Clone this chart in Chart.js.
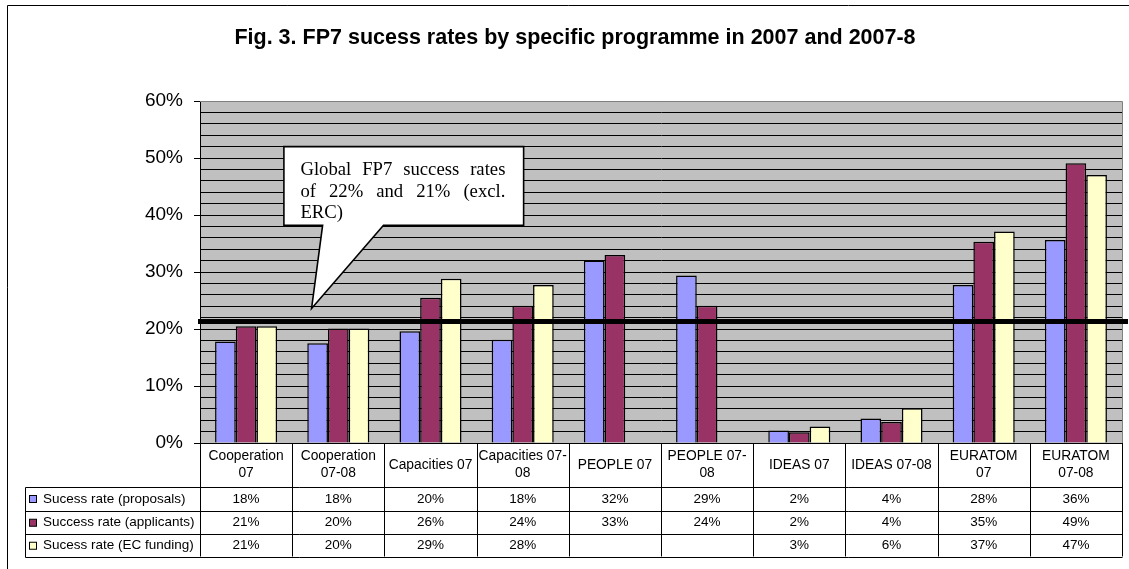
<!DOCTYPE html>
<html>
<head>
<meta charset="utf-8">
<script src="https://cdn.jsdelivr.net/npm/chart.js@4/dist/chart.umd.min.js"></script>
<style>
html,body{margin:0;padding:0;background:#fff;}
#wrap{width:1129px;height:569px;position:relative;}
</style>
</head>
<body>
<div id="wrap"><canvas id="c"></canvas></div>
<script>
// ---- data ----
const categories = [
  ["Cooperation","07"], ["Cooperation","07-08"], "Capacities 07", ["Capacities 07-","08"],
  "PEOPLE 07", ["PEOPLE 07-","08"], "IDEAS 07", "IDEAS 07-08", ["EURATOM","07"], ["EURATOM","07-08"]
];
const seriesNames = ["Sucess rate (proposals)", "Success rate (applicants)", "Sucess rate (EC funding)"];
const proposals  = [17.8, 17.5, 19.6, 18.1, 32.0, 29.4, 2.2, 4.3, 27.7, 35.6];
const applicants = [20.5, 20.1, 25.5, 24.1, 33.0, 24.1, 1.9, 3.7, 35.3, 49.1];
const ecFunding  = [20.5, 20.1, 28.8, 27.7, null, null, 2.9, 6.1, 37.1, 47.0];
const yTickValues = [0, 10, 20, 30, 40, 50, 60];
const globalRate = 21.3;
const titleText = "Fig. 3. FP7 sucess rates by specific programme in 2007 and 2007-8";
const calloutLines = ["Global FP7 success rates", "of 22% and 21% (excl.", "ERC)"];

const colors = ["#9999FF", "#993366", "#FFFFCC"];
const FONT = "'Liberation Sans', Arial, sans-serif";
const SERIF = "'Liberation Serif', 'Times New Roman', serif";

// callout placement (category index units / value units)
const calloutPos = {x0: 0.41, x1: 3.01, yTop: 52.0, yBottom: 38.2,
                    baseL: 0.83, baseR: 1.49, tipX: 0.71, tipY: 23.6};

const drawPlugin = {
  id: 'drawExtras',
  beforeDraw(chart) {
    const ctx = chart.ctx, a = chart.chartArea;
    ctx.save();
    ctx.fillStyle = '#fff';
    ctx.fillRect(0, 0, chart.width, chart.height);
    ctx.fillStyle = '#C0C0C0';
    ctx.fillRect(a.left, a.top, a.right - a.left, a.bottom - a.top);
    ctx.restore();
  },
  afterDatasetsDraw(chart) {
    const ctx = chart.ctx, a = chart.chartArea;
    const xs = chart.scales.x, ys = chart.scales.y;
    ctx.save();

    // plot border top/right
    ctx.strokeStyle = '#808080'; ctx.lineWidth = 1;
    ctx.beginPath();
    ctx.moveTo(a.left, Math.round(a.top) + 0.5);
    ctx.lineTo(Math.round(a.right) + 0.5, Math.round(a.top) + 0.5);
    ctx.lineTo(Math.round(a.right) + 0.5, a.bottom);
    ctx.stroke();

    // global rate line
    const gy = ys.getPixelForValue(globalRate);
    ctx.strokeStyle = '#000'; ctx.lineWidth = 5;
    ctx.beginPath(); ctx.moveTo(a.left - 2, gy); ctx.lineTo(chart.width - 1, gy); ctx.stroke();

    // callout
    const bx0 = xs.getPixelForValue(calloutPos.x0), bx1 = xs.getPixelForValue(calloutPos.x1);
    const by0 = ys.getPixelForValue(calloutPos.yTop), by1 = ys.getPixelForValue(calloutPos.yBottom);
    const blx = xs.getPixelForValue(calloutPos.baseL), brx = xs.getPixelForValue(calloutPos.baseR);
    const tx = xs.getPixelForValue(calloutPos.tipX), ty = ys.getPixelForValue(calloutPos.tipY);
    ctx.beginPath();
    ctx.moveTo(bx0, by0); ctx.lineTo(bx1, by0); ctx.lineTo(bx1, by1);
    ctx.lineTo(brx, by1); ctx.lineTo(tx, ty); ctx.lineTo(blx, by1);
    ctx.lineTo(bx0, by1); ctx.closePath();
    ctx.fillStyle = '#fff'; ctx.fill();
    ctx.strokeStyle = '#000'; ctx.lineWidth = 1.6; ctx.lineJoin = 'miter'; ctx.stroke();
    // callout text, justified
    ctx.save();
    ctx.beginPath(); ctx.rect(bx0 + 1, by0 + 1, bx1 - bx0 - 2, by1 - by0 - 2); ctx.clip();
    ctx.font = "18.7px " + SERIF; ctx.fillStyle = '#000'; ctx.textBaseline = 'alphabetic'; ctx.textAlign = 'left';
    const tLeft = bx0 + 16.5, tWidth = 205;
    calloutLines.forEach((line, i) => {
      const by = by0 + 28.5 + i * 21.6;
      const words = line.split(' ');
      if (i === calloutLines.length - 1 || words.length < 2) {
        ctx.fillText(line, tLeft, by);
      } else {
        const ws = words.map(w => ctx.measureText(w).width);
        const gap = (tWidth - ws.reduce((s, v) => s + v, 0)) / (words.length - 1);
        let x = tLeft;
        words.forEach((w, k) => { ctx.fillText(w, x, by); x += ws[k] + gap; });
      }
    });
    ctx.restore();

    // data table
    const n = categories.length;
    const top = a.bottom;
    const rows = [top, top + 43.5, top + 67.5, top + 91, top + 113.5];
    const tableLeft = 25.5;
    const R = Math.round(a.right) + 0.5;
    ctx.strokeStyle = '#000'; ctx.lineWidth = 1;
    ctx.beginPath();
    for (let i = 0; i <= n; i++) {
      const x = Math.round(xs.getPixelForValue(i - 0.5)) + 0.5;
      ctx.moveTo(x, top); ctx.lineTo(x, rows[4]);
    }
    for (let r = 1; r < rows.length; r++) {
      const y = Math.round(rows[r]) + 0.5;
      ctx.moveTo(tableLeft, y); ctx.lineTo(R, y);
    }
    ctx.moveTo(tableLeft, Math.round(rows[1]) + 0.5); ctx.lineTo(tableLeft, Math.round(rows[4]) + 0.5);
    ctx.stroke();

    ctx.fillStyle = '#000';
    ctx.font = "13.8px " + FONT;
    ctx.textAlign = 'center'; ctx.textBaseline = 'middle';
    categories.forEach((c, i) => {
      const cx = xs.getPixelForValue(i);
      const lines = Array.isArray(c) ? c : [c];
      const mid = (rows[0] + rows[1]) / 2;
      lines.forEach((l, k) => {
        ctx.fillText(l, cx, mid + (k - (lines.length - 1) / 2) * 17);
      });
    });
    ctx.font = "13.5px " + FONT;
    const series = [proposals, applicants, ecFunding];
    series.forEach((arr, r) => {
      const cy = (rows[r + 1] + rows[r + 2]) / 2 + 0.5;
      ctx.textAlign = 'center';
      arr.forEach((v, i) => {
        if (v === null) return;
        ctx.fillText(Math.round(v) + '%', xs.getPixelForValue(i), cy);
      });
      // legend key
      ctx.fillStyle = colors[r];
      ctx.fillRect(29.5, cy - 3.5, 7, 7);
      ctx.strokeStyle = '#000'; ctx.lineWidth = 1;
      ctx.strokeRect(29.5, cy - 3.5, 7, 7);
      ctx.fillStyle = '#000';
      ctx.textAlign = 'left';
      ctx.fillText(seriesNames[r], 43, cy);
    });

    // title
    ctx.font = "bold 21.5px " + FONT;
    ctx.textAlign = 'center'; ctx.textBaseline = 'alphabetic';
    ctx.fillText(titleText, 575, 43.5);

    // outer frame
    ctx.strokeStyle = '#000'; ctx.lineWidth = 1;
    ctx.beginPath();
    ctx.moveTo(7.5, chart.height); ctx.lineTo(7.5, 5.5); ctx.lineTo(chart.width, 5.5);
    ctx.stroke();
    ctx.restore();
  }
};

new Chart(document.getElementById('c'), {
  type: 'bar',
  data: {
    labels: categories,
    datasets: [
      {label: seriesNames[0], data: proposals, backgroundColor: colors[0]},
      {label: seriesNames[1], data: applicants, backgroundColor: colors[1]},
      {label: seriesNames[2], data: ecFunding, backgroundColor: colors[2]}
    ].map(d => Object.assign(d, {borderColor: '#000', borderWidth: 1.5,
                                  categoryPercentage: 0.673, barPercentage: 1.0}))
  },
  options: {
    responsive: true,
    maintainAspectRatio: false,
    animation: false,
    layout: {padding: {top: 101, left: 0, right: 7, bottom: 0}},
    plugins: {legend: {display: false}, title: {display: false}, tooltip: {enabled: false}},
    scales: {
      x: {
        display: true,
        ticks: {display: false},
        grid: {display: false},
        border: {display: false},
        afterFit: s => { s.height = 126; }
      },
      y: {
        min: 0, max: 60,
        afterFit: s => { s.width = 200; },
        afterBuildTicks: s => {
          const t = [];
          for (let v = 0; v <= 60; v += 2) t.push({value: v});
          s.ticks = t;
        },
        ticks: {
          autoSkip: false,
          padding: 11,
          color: '#000',
          font: {family: FONT, size: 19},
          callback: v => yTickValues.includes(v) ? v + '%' : ''
        },
        grid: {
          color: c => (c.tick && c.tick.value === 60) ? '#808080' : '#000',
          lineWidth: 1,
          tickLength: 6,
          tickColor: c => (c.tick && yTickValues.includes(c.tick.value)) ? '#000' : 'rgba(0,0,0,0)'
        },
        border: {display: true, color: '#000', width: 1}
      }
    }
  },
  plugins: [drawPlugin]
});
</script>
</body>
</html>
